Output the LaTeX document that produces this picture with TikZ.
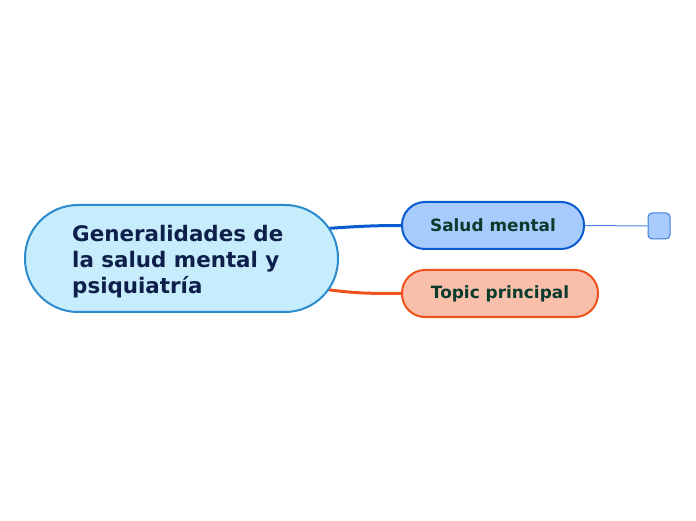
\documentclass[tikz,border=0pt]{standalone}
\usepackage{fontspec}
\setmainfont{DejaVu Sans}
\usetikzlibrary{backgrounds}
\definecolor{mainfill}{HTML}{C7ECFC}
\definecolor{mainborder}{HTML}{2B8BCC}
\definecolor{maintext}{HTML}{0D1F4A}
\definecolor{bluefill}{HTML}{A8CBFE}
\definecolor{blueborder}{HTML}{0A5BD0}
\definecolor{orfill}{HTML}{F9BFAA}
\definecolor{orborder}{HTML}{F0521E}
\definecolor{subtext}{HTML}{0B3B2C}
\tikzset{
  mainbox/.style={draw=mainborder, fill=mainfill, line width=2pt, rounded corners=53pt,
    minimum width=313pt, minimum height=107pt, inner sep=0pt},
  subbox/.style={line width=2pt, rounded corners=23pt, minimum height=47pt, inner sep=0pt,
    font=\bfseries\fontsize{16.9}{20}\selectfont, text=subtext},
  leafbox/.style={draw=blueborder!80!white, fill=bluefill, line width=1pt, rounded corners=4pt,
    minimum width=22pt, minimum height=26pt, inner sep=0pt},
  thickconn/.style={line width=3pt},
}
\begin{document}
\begin{tikzpicture}[x=1pt,y=1pt]
\useasboundingbox (0,0) rectangle (696,520);
\node[mainbox] (main) at (181.5,261.5) {};
\node[anchor=west, text=maintext, align=left, inner sep=0pt, font=\bfseries\fontsize{21.4}{26}\selectfont] (maintxt) at (72,258.5)
  {Generalidades de\\la salud mental y\\psiquiatría};
\node[subbox, draw=blueborder, fill=bluefill, minimum width=182pt] (salud) at (493,294.5) {\raisebox{-1.5pt}{Salud mental}};
\node[subbox, draw=orborder, fill=orfill, minimum width=196pt] (topic) at (500,226.5) {\raisebox{-1.5pt}{Topic principal}};
\node[leafbox] (leaf) at (659,294) {};
\begin{scope}[on background layer]
\draw[thickconn, blueborder] ([xshift=-12pt,yshift=30pt]main.east) to[out=4,in=180] (salud.west);
\draw[thickconn, orborder] ([xshift=-12pt,yshift=-31pt]main.east) to[out=-8,in=180] (topic.west);
\draw[line width=1pt, blueborder!75!white] (salud.east) -- (leaf.west);
\end{scope}
\end{tikzpicture}
\end{document}
